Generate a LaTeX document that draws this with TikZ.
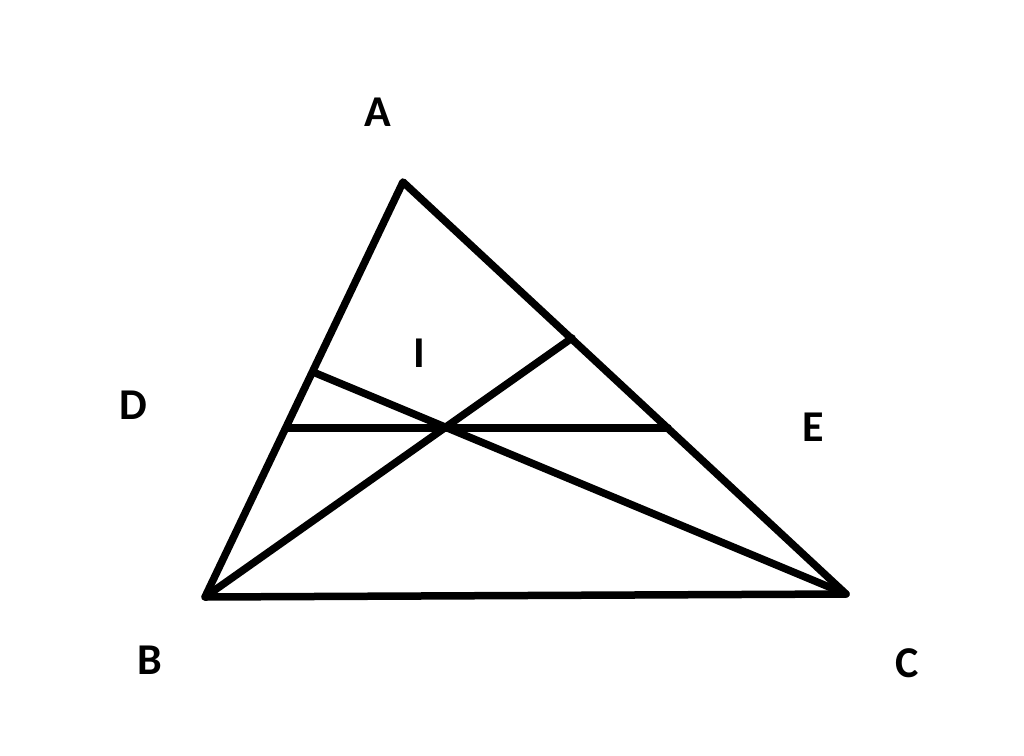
\documentclass[tikz,border=0pt]{standalone}
\usepackage{fontspec}
\setmainfont{Carlito}
\begin{document}
\begin{tikzpicture}[x=1pt,y=-1pt,
  seg/.style={line width=7.5pt,line cap=round,line join=round,black},
  lbl/.style={font=\bfseries\fontsize{44}{50}\selectfont,inner sep=0pt}]
\useasboundingbox[fill=white] (0,0) rectangle (1024,755);
\coordinate (A) at (403,182);
\coordinate (B) at (205,597);
\coordinate (C) at (846,594);
\coordinate (P) at (572,338);
\coordinate (Q) at (313,372);
\coordinate (H1) at (287,428);
\coordinate (H2) at (668,428);
\draw[seg] (A) -- (B) -- (C) -- cycle;
\draw[seg] (B) -- (P);
\draw[seg] (C) -- (Q);
\draw[seg] (H1) -- (H2);
\node[lbl] (lA) at (378,112) {A};
\node[lbl] (lI) at (419,353) {I};
\node[lbl] (lD) at (133,405) {D};
\node[lbl] (lE) at (813,427) {E};
\node[lbl] (lB) at (150,660) {B};
\node[lbl] (lC) at (907,663) {C};
\end{tikzpicture}
\end{document}
